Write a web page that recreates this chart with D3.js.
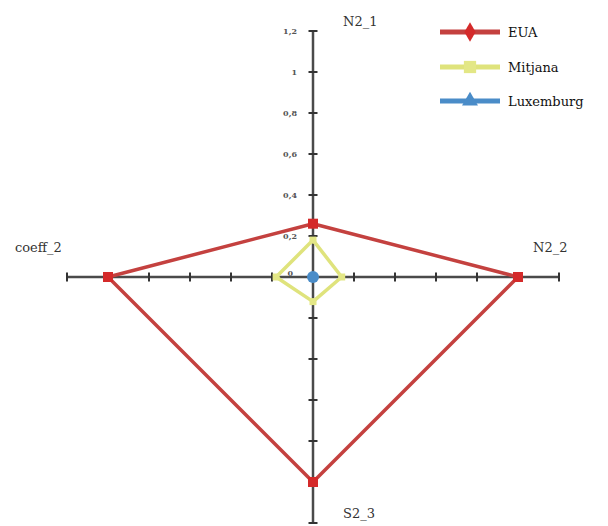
<!DOCTYPE html>
<html><head><meta charset="utf-8">
<script src="https://cdn.jsdelivr.net/npm/d3@7/dist/d3.min.js"></script>
<style>body{margin:0;background:#fff}svg{display:block}</style>
</head><body><svg id="c" width="608" height="526"></svg>
<script>
const axes = ["N2_1", "N2_2", "S2_3", "coeff_2"];
const seriesNames = ["EUA", "Mitjana", "Luxemburg"];
const euaValues = [0.26, 1.0, 1.0, 1.0];
const mitjanaValues = [0.18, 0.14, 0.12, 0.18];
const luxemburgValues = [0, 0, 0, 0];
const tickValues = [0, 0.2, 0.4, 0.6, 0.8, 1, 1.2];
const tickLabels = ["0", "0,2", "0,4", "0,6", "0,8", "1", "1,2"];

const colors = ["#c4413f", "#dfe37c", "#4a8cc8"];
const markerColors = ["#d42a2a", "#e3e786", "#4a8cc8"];
const seriesValues = [euaValues, mitjanaValues, luxemburgValues];

const svg = d3.select("#c");
const cx = 313, cy = 277;
const r = d3.scaleLinear().domain([0, 1.2]).range([0, 246]);
const angle = i => -Math.PI / 2 + i * Math.PI / 2;
const pt = (i, v) => [cx + r(v) * Math.cos(angle(i)), cy + r(v) * Math.sin(angle(i))];

// axes with ticks
const g = svg.append("g");
axes.forEach((a, i) => {
  const [x2, y2] = pt(i, 1.2);
  g.append("line").attr("x1", cx).attr("y1", cy).attr("x2", x2).attr("y2", y2)
    .attr("stroke", "#4a4a4a").attr("stroke-width", 2.5);
  const dx = Math.cos(angle(i)), dy = Math.sin(angle(i));
  const nx = -dy, ny = dx;
  tickValues.slice(1).forEach(t => {
    const [tx, ty] = pt(i, t);
    g.append("line")
      .attr("x1", tx - nx * 4.5).attr("y1", ty - ny * 4.5)
      .attr("x2", tx + nx * 4.5).attr("y2", ty + ny * 4.5)
      .attr("stroke", "#333").attr("stroke-width", 2);
  });
});

// tick labels on the first axis
tickValues.forEach((t, k) => {
  const [tx, ty] = pt(0, t);
  svg.append("text").attr("x", k === 0 ? 293 : 297).attr("y", (k === 0 ? ty - 4 : ty) + 3)
    .attr("text-anchor", "end").attr("font-family", "DejaVu Serif").attr("font-weight", "bold")
    .attr("font-size", 8).attr("fill", "#555").text(tickLabels[k]);
});

// axis labels
const labelPos = [[343, 26], [533, 252], [343, 518], [15, 252]];
axes.forEach((a, i) => {
  svg.append("text").attr("x", labelPos[i][0]).attr("y", labelPos[i][1])
    .attr("font-family", "DejaVu Serif")
    .attr("font-size", 13).attr("fill", "#333").text(a);
});

// series
const line = d3.line().curve(d3.curveLinearClosed);
seriesValues.forEach((vals, s) => {
  const pts = vals.map((v, i) => pt(i, v));
  svg.append("path").attr("d", line(pts)).attr("fill", "none")
    .attr("stroke", colors[s]).attr("stroke-width", s === 2 ? 3 : 3.5)
    .attr("stroke-linejoin", "round");
});
// markers
seriesValues.forEach((vals, s) => {
  vals.forEach((v, i) => {
    const [x, y] = pt(i, v);
    if (s === 0) {
      svg.append("rect").attr("x", x - 5).attr("y", y - 5).attr("width", 10).attr("height", 10)
        .attr("fill", markerColors[0]);
    } else if (s === 1) {
      svg.append("rect").attr("x", x - 3.5).attr("y", y - 3.5).attr("width", 7).attr("height", 7)
        .attr("fill", markerColors[1]);
    } else if (i === 0) {
      svg.append("circle").attr("cx", x).attr("cy", y).attr("r", 6).attr("fill", markerColors[2]);
    }
  });
});

// legend
const legY = [32, 67, 101];
const sym = [d3.symbolDiamond, d3.symbolSquare, d3.symbolTriangle];
seriesNames.forEach((n, s) => {
  const lg = svg.append("g");
  lg.append("line").attr("x1", 440).attr("x2", 500).attr("y1", legY[s]).attr("y2", legY[s])
    .attr("stroke", colors[s]).attr("stroke-width", 5);
  lg.append("path").attr("d", d3.symbol().type(sym[s]).size(s === 1 ? 150 : 110)())
    .attr("transform", `translate(470,${legY[s]})`).attr("fill", markerColors[s]);
  lg.append("text").attr("x", 508).attr("y", legY[s] + 5).attr("font-family", "DejaVu Serif")
    .attr("font-size", 13).attr("fill", "#111").text(n);
});
</script></body></html>
